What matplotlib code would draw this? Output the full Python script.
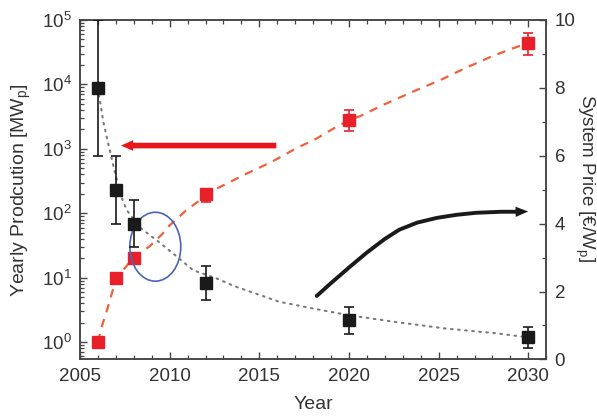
import numpy as np
import matplotlib
matplotlib.use("Agg")
import matplotlib.pyplot as plt
from matplotlib.patches import Ellipse, FancyArrowPatch
from matplotlib.ticker import MultipleLocator, LogLocator, NullFormatter

plt.rcParams['font.family'] = ['Liberation Sans', 'DejaVu Sans']

# measured points
years = [2006, 2007, 2008, 2012, 2020, 2030]
production = [1, 10, 20, 200, 2800, 44000]
production_lo = [1, 10, 20, 150, 1900, 28800]
production_hi = [1, 10, 20, 210, 4000, 62500]
price = [8.0, 5.0, 4.0, 2.25, 1.15, 0.65]
price_err = [2.0, 1.0, 0.7, 0.5, 0.4, 0.3]

# fit curves
prod_fit_years = [2006.0, 2006.2, 2006.5, 2006.8, 2007.0, 2007.4, 2008.0, 2008.9, 2009.6,
                  2010.0, 2010.9, 2012.0, 2012.6, 2013.6, 2014.1, 2015.7, 2017.0, 2018.2,
                  2019.3, 2020.0, 2020.6, 2021.9, 2023.6, 2025.1, 2026.5, 2028.0, 2029.1, 2030.0]
prod_fit = [1.0, 1.7, 3.1, 6.0, 9.0, 13, 21, 31, 48, 65, 110, 185, 240, 330, 390, 630,
            1000, 1450, 2200, 2800, 3200, 4800, 7800, 11700, 18000, 27500, 36000, 44000]
price_fit_years = [2006.0, 2006.3, 2006.6, 2006.95, 2007.3, 2007.6, 2008.4, 2009.3, 2010.4,
                   2011.3, 2012.6, 2013.6, 2016.1, 2018.0, 2019.9, 2022.5, 2025.4, 2028.2, 2030.0]
price_fit = [8.0, 7.0, 6.3, 5.5, 4.8, 4.4, 3.86, 3.5, 3.03, 2.63, 2.39, 2.16, 1.70, 1.50,
             1.31, 1.11, 0.91, 0.77, 0.65]

# annotations
red_arrow_from = (2016.1, 1125)
red_arrow_to = (2007.13, 1125)
black_arrow_years = [2018.2, 2019.0, 2020.05, 2021.0, 2022.0, 2022.8, 2023.8, 2024.9,
                     2026.0, 2027.1, 2028.5, 2029.4]
black_arrow_price = [1.87, 2.25, 2.73, 3.15, 3.55, 3.82, 4.03, 4.17, 4.26, 4.32, 4.35, 4.35]
black_arrow_tip = (2030.15, 4.36)
circle_center = (2009.2, 3.32)
circle_size = (2.84, 2.03)

txt = '#333333'
red = '#e8202a'
red_line = '#f0603c'
blk = '#1a1a1a'

fig = plt.figure(figsize=(5.97, 4.16), dpi=100)
ax = fig.add_axes([0.134, 0.136, 0.781, 0.816])
ax2 = ax.twinx()

# production (left, log)
ax.plot(prod_fit_years, prod_fit, color=red_line, lw=1.6, dashes=(3.8, 3.2))
yerr = [np.array(production) - np.array(production_lo),
        np.array(production_hi) - np.array(production)]
ax.errorbar(years, production, yerr=yerr, fmt='s', ms=8.5, color=red, ecolor=red,
            elinewidth=1.2, capsize=3.5, capthick=1.2, zorder=3)
ax.set_yscale('log')
ax.set_ylim(0.54, 1e5)
ax.set_xlim(2005, 2031)

# price (right, linear)
ax2.plot(price_fit_years, price_fit, color='#7a7a7a', lw=1.5, ls=(0, (0.8, 2.6)),
         dash_capstyle='round')
ax2.errorbar(years, price, yerr=price_err, fmt='s', ms=8.5, color=blk, ecolor=blk,
             elinewidth=1.2, capsize=3.5, capthick=1.2, zorder=3)
ax2.set_ylim(0, 10)

# arrows and circle
ax.add_patch(FancyArrowPatch(red_arrow_from, red_arrow_to,
                             arrowstyle='simple,head_length=1.25,head_width=1.1,tail_width=0.58',
                             mutation_scale=7, color='#e8161b', lw=0))
ax2.plot(black_arrow_years, black_arrow_price, color=blk, lw=2.8, solid_capstyle='round')
ax2.add_patch(FancyArrowPatch((black_arrow_years[-1], black_arrow_price[-1]), black_arrow_tip,
                              arrowstyle='simple,head_length=1.3,head_width=1.05,tail_width=0.4',
                              mutation_scale=7, color=blk, lw=0))
ax2.add_patch(Ellipse(circle_center, circle_size[0], circle_size[1], fill=False,
                      edgecolor='#4a64b8', lw=1.2))

# axes styling
for a in (ax, ax2):
    for s in a.spines.values():
        s.set_color('#444444')
        s.set_linewidth(1.1)

ax.xaxis.set_major_locator(MultipleLocator(5))
ax.xaxis.set_minor_locator(MultipleLocator(1))
ax.yaxis.set_major_locator(LogLocator(base=10, numticks=10))
ax.yaxis.set_minor_locator(LogLocator(base=10, subs=np.arange(2, 10), numticks=20))
ax.yaxis.set_minor_formatter(NullFormatter())
ax2.yaxis.set_major_locator(MultipleLocator(2))
ax2.yaxis.set_minor_locator(MultipleLocator(1))

ax.tick_params(which='both', direction='in', top=True, right=False, colors='#444444',
               labelcolor=txt, labelsize=13.5)
ax.tick_params(which='major', length=5, width=1)
ax.tick_params(which='minor', length=3, width=0.9)
ax.tick_params(axis='x', pad=6)
ax.tick_params(axis='y', pad=6)
ax2.tick_params(which='both', direction='in', colors='#444444', labelcolor=txt,
                labelsize=13.5, pad=6)
ax2.tick_params(which='major', length=5, width=1)
ax2.tick_params(which='minor', length=3, width=0.9)

ax.set_xlabel('Year', fontsize=14, color=txt, labelpad=8)
ax.set_ylabel('Yearly Prodcution [MW$_\\mathregular{p}$]', fontsize=14, color=txt, labelpad=6)
ax2.set_ylabel('System Price [€/W$_\\mathregular{p}$]', fontsize=13.5, color=txt,
               rotation=-90, va='center', ha='center')
ax2.yaxis.set_label_coords(1.083, 0.535)

fig.savefig('out.png', dpi=100)
